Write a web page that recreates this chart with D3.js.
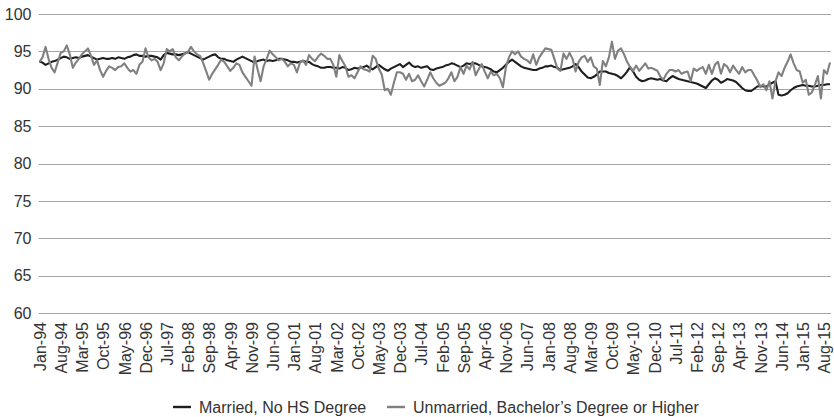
<!DOCTYPE html>
<html>
<head>
<meta charset="utf-8">
<script src="https://cdn.jsdelivr.net/npm/d3@7"></script>
<style>
  html, body { margin: 0; padding: 0; background: #ffffff; }
  svg { display: block; font-family: "Liberation Sans", Arial, Helvetica, sans-serif; }
</style>
</head>
<body>
<script>
// Monthly series, Jan-1994 through Oct-2015 (one row per year)
const monthNames = ["Jan","Feb","Mar","Apr","May","Jun","Jul","Aug","Sep","Oct","Nov","Dec"];
const startYear = 1994;
const pointCount = 262;

const marriedNoHS = [].concat(
  [93.6, 93.5, 93.2, 93.4, 93.6, 93.7, 93.9, 94.1, 94.3, 94.2, 94.0, 94.1], // 1994
  [94.2, 94.1, 94.3, 94.4, 94.5, 94.3, 94.1, 93.9, 94.0, 94.1, 94.0, 94.0], // 1995
  [94.1, 94.0, 94.2, 94.1, 94.0, 94.2, 94.3, 94.5, 94.6, 94.4, 94.4, 94.3], // 1996
  [94.4, 94.4, 94.3, 94.2, 93.9, 94.5, 94.8, 94.7, 94.6, 94.6, 94.5, 94.6], // 1997
  [94.7, 94.9, 94.7, 94.5, 94.3, 94.1, 93.9, 94.1, 94.3, 94.5, 94.6, 94.2], // 1998
  [94.0, 94.0, 93.8, 93.7, 93.6, 93.9, 94.1, 94.3, 94.1, 93.9, 93.7, 93.5], // 1999
  [93.7, 93.8, 93.9, 93.7, 93.8, 93.7, 93.8, 94.0, 94.0, 93.9, 93.8, 93.6], // 2000
  [93.6, 93.5, 93.6, 93.7, 93.6, 93.6, 93.3, 93.1, 93.0, 92.8, 92.8, 92.9], // 2001
  [92.9, 92.8, 92.8, 92.7, 92.9, 92.8, 92.5, 92.6, 92.8, 92.7, 92.8, 92.9], // 2002
  [93.1, 92.8, 92.6, 92.9, 93.2, 92.9, 92.6, 92.4, 92.7, 92.9, 93.1, 93.3], // 2003
  [92.9, 93.2, 93.5, 93.1, 92.9, 93.0, 92.8, 92.9, 93.0, 92.6, 92.5, 92.7], // 2004
  [92.8, 92.9, 93.1, 93.2, 93.4, 93.3, 93.1, 92.9, 93.1, 93.4, 93.3, 93.4], // 2005
  [93.4, 93.2, 93.0, 92.9, 92.8, 92.6, 92.3, 92.2, 92.5, 92.8, 93.2, 93.6], // 2006
  [93.9, 93.6, 93.3, 93.0, 92.8, 92.7, 92.6, 92.5, 92.5, 92.7, 92.8, 93.0], // 2007
  [93.0, 93.1, 92.9, 92.8, 92.5, 92.6, 92.7, 92.8, 93.0, 93.3, 92.9, 92.3], // 2008
  [91.9, 91.5, 91.4, 91.6, 91.9, 92.3, 92.3, 92.3, 92.1, 92.0, 91.9, 91.7], // 2009
  [91.4, 91.8, 92.3, 92.9, 92.3, 91.6, 91.2, 91.0, 91.1, 91.3, 91.4, 91.3], // 2010
  [91.2, 91.3, 91.1, 91.0, 91.4, 91.7, 91.5, 91.3, 91.2, 91.1, 91.0, 90.9], // 2011
  [90.8, 90.7, 90.5, 90.3, 90.1, 90.6, 91.1, 91.4, 91.2, 90.8, 91.0, 91.3], // 2012
  [91.2, 91.1, 90.9, 90.5, 90.1, 89.8, 89.7, 89.7, 90.0, 90.3, 90.4, 90.3], // 2013
  [90.3, 90.6, 90.8, 91.0, 89.2, 89.1, 89.2, 89.4, 89.8, 90.1, 90.3, 90.4], // 2014
  [90.5, 90.4, 90.4, 90.3, 90.3, 90.4, 90.5, 90.5, 90.6, 90.6]              // 2015
);

const unmarriedBA = [].concat(
  [93.6, 94.2, 95.6, 94.0, 92.8, 92.2, 93.5, 94.8, 95.0, 95.8, 94.6, 92.8], // 1994
  [93.5, 94.0, 94.6, 95.0, 95.4, 94.4, 93.2, 93.8, 92.5, 91.6, 92.4, 93.0], // 1995
  [92.8, 92.5, 92.9, 93.0, 93.4, 92.8, 92.3, 92.5, 92.0, 93.2, 93.6, 95.4], // 1996
  [94.2, 93.8, 94.0, 93.6, 92.5, 93.4, 95.3, 95.0, 95.3, 94.2, 93.8, 94.3], // 1997
  [94.7, 94.9, 95.6, 95.0, 94.6, 94.4, 93.5, 92.4, 91.2, 92.0, 92.6, 93.2], // 1998
  [93.9, 93.6, 93.0, 92.4, 92.8, 93.4, 93.2, 92.2, 91.6, 91.0, 90.4, 94.3], // 1999
  [92.6, 91.0, 93.0, 94.0, 95.1, 94.6, 94.2, 93.8, 94.0, 93.6, 93.0, 93.4], // 2000
  [93.2, 92.2, 93.5, 93.8, 93.2, 94.5, 94.0, 93.7, 94.3, 94.7, 94.4, 94.0], // 2001
  [94.0, 93.2, 91.6, 94.5, 93.7, 93.0, 91.6, 91.8, 91.4, 92.2, 93.0, 92.6], // 2002
  [92.5, 92.3, 94.4, 94.0, 92.7, 91.9, 89.8, 90.0, 89.2, 90.8, 92.2, 92.2], // 2003
  [92.0, 91.2, 92.0, 91.0, 91.2, 91.8, 91.0, 90.3, 91.2, 92.2, 91.4, 90.8], // 2004
  [90.4, 90.6, 90.8, 91.4, 92.2, 91.0, 91.6, 92.9, 92.0, 93.1, 92.6, 93.6], // 2005
  [91.8, 92.6, 93.3, 92.3, 91.4, 92.3, 91.8, 92.0, 91.4, 90.2, 92.9, 94.2], // 2006
  [95.0, 94.6, 95.0, 94.3, 94.0, 93.8, 93.4, 94.6, 93.2, 94.2, 94.8, 95.4], // 2007
  [95.3, 95.2, 94.0, 92.7, 92.4, 94.7, 94.0, 94.8, 94.0, 92.3, 93.6, 94.2], // 2008
  [94.4, 93.6, 94.2, 93.0, 92.7, 90.5, 93.7, 93.0, 94.2, 96.3, 94.0, 95.1], // 2009
  [95.4, 94.6, 93.6, 92.9, 92.4, 93.1, 92.4, 92.9, 93.4, 92.7, 92.8, 92.6], // 2010
  [92.4, 91.6, 91.2, 92.0, 92.5, 92.5, 92.3, 92.5, 92.0, 92.2, 92.3, 91.0], // 2011
  [92.7, 92.4, 92.7, 92.9, 92.0, 93.2, 92.0, 93.2, 93.6, 92.0, 93.3, 93.0], // 2012
  [92.2, 93.1, 92.5, 92.0, 92.9, 92.2, 92.5, 92.5, 91.8, 91.1, 90.2, 90.6], // 2013
  [89.8, 91.0, 88.7, 91.0, 92.2, 91.7, 92.8, 93.6, 94.6, 93.4, 92.5, 92.3], // 2014
  [90.8, 91.2, 89.2, 89.5, 90.5, 91.7, 88.7, 92.5, 92.0, 93.5]              // 2015
);

const yTicks = [60, 65, 70, 75, 80, 85, 90, 95, 100];
const tickEvery = 7;

const seriesNames = ["Married, No HS Degree", "Unmarried, Bachelor\u2019s Degree or Higher"];
const seriesColors = ["#1e1e1e", "#808080"];

// Month labels such as "Jan-94"
const categories = d3.range(pointCount).map(i => {
  const yr = startYear + Math.floor(i / 12);
  return monthNames[i % 12] + "-" + String(yr % 100).padStart(2, "0");
});
const xTickLabels = categories.filter((c, i) => i % tickEvery === 0);

const W = 834, H = 417;
const plot = { left: 39.5, right: 830, top: 14, bottom: 313 };
const fontSize = 16;

const svg = d3.select("body").append("svg")
  .attr("width", W).attr("height", H);

const x = d3.scalePoint().domain(categories).range([plot.left, plot.right]);
const y = d3.scaleLinear().domain([60, 100]).range([plot.bottom, plot.top]);

// Horizontal gridlines
svg.append("g").selectAll("line").data(yTicks).join("line")
  .attr("x1", plot.left - 1).attr("x2", plot.right + 1)
  .attr("y1", d => Math.round(y(d)) + 0.5).attr("y2", d => Math.round(y(d)) + 0.5)
  .attr("stroke", "#a6a6a6").attr("stroke-width", 1.2);

// Y axis labels
const yAxis = d3.axisLeft(y).tickValues(yTicks).tickSize(0).tickPadding(8);
svg.append("g").attr("transform", `translate(${plot.left},0)`).call(yAxis)
  .call(g => g.select(".domain").remove())
  .call(g => g.selectAll("text")
    .attr("font-size", fontSize).attr("fill", "#333333")
    .attr("font-family", "Liberation Sans, Arial, sans-serif"));

// X axis labels (rotated, every 7 months)
const xAxis = d3.axisBottom(x).tickValues(xTickLabels).tickSize(0).tickPadding(0);
svg.append("g").attr("transform", `translate(0,${plot.bottom})`).call(xAxis)
  .call(g => g.select(".domain").remove())
  .call(g => g.selectAll("text")
    .attr("font-size", fontSize).attr("fill", "#333333")
    .attr("font-family", "Liberation Sans, Arial, sans-serif")
    .attr("text-anchor", "end")
    .attr("transform", "rotate(-90)")
    .attr("x", -9).attr("y", 0).attr("dy", "0.36em"));

// Series lines
const line = d3.line()
  .x((d, i) => x(categories[i]))
  .y(d => y(d));

[marriedNoHS, unmarriedBA].forEach((vals, k) => {
  svg.append("path")
    .datum(vals)
    .attr("fill", "none")
    .attr("stroke", seriesColors[k])
    .attr("stroke-width", 2.1)
    .attr("stroke-linejoin", "round")
    .attr("d", line);
});

// Legend
const legendY = 407;
const legendItems = [
  { x: 173, name: seriesNames[0], color: seriesColors[0] },
  { x: 387, name: seriesNames[1], color: seriesColors[1] }
];
const lg = svg.append("g").selectAll("g").data(legendItems).join("g")
  .attr("transform", d => `translate(${d.x},${legendY})`);
lg.append("line")
  .attr("x1", 0).attr("x2", 18).attr("y1", 0).attr("y2", 0)
  .attr("stroke", d => d.color).attr("stroke-width", 2.4);
lg.append("text")
  .attr("x", 26).attr("y", 0).attr("dy", "0.35em")
  .attr("font-size", fontSize).attr("fill", "#333333")
  .text(d => d.name);
</script>
</body>
</html>
